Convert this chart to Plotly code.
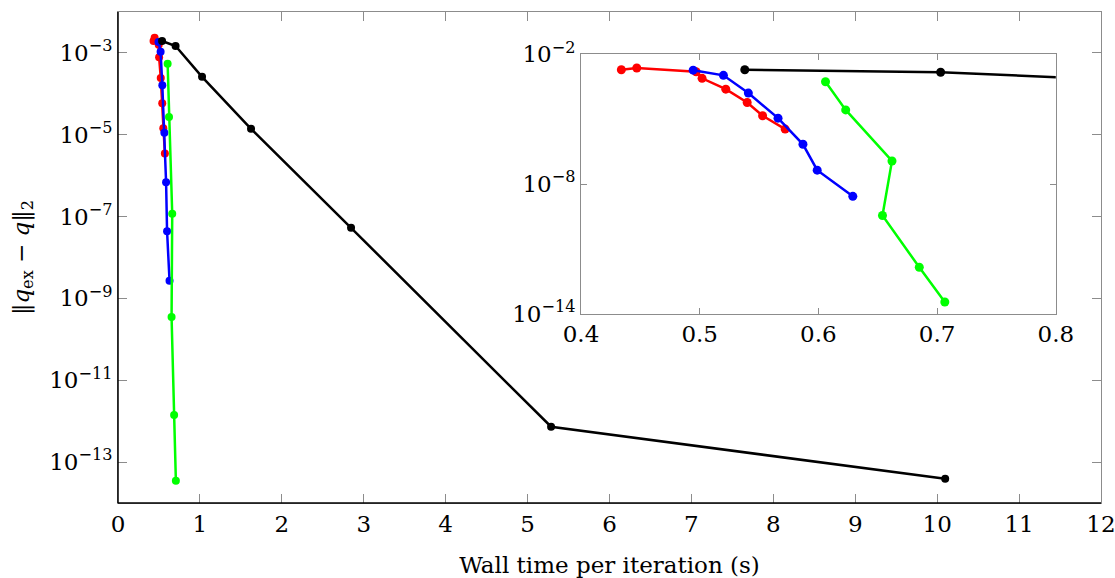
import plotly.graph_objects as go

# ---- data ----
red_x = [0.434, 0.447, 0.497, 0.502, 0.522, 0.540, 0.553, 0.572]
red_y = [1.95e-3, 2.34e-3, 1.58e-3, 7.8e-4, 2.45e-4, 5.9e-5, 1.45e-5, 3.5e-6]

blue_x = [0.4945, 0.520, 0.541, 0.566, 0.587, 0.599, 0.629]
blue_y = [1.86e-3, 1.07e-3, 1.62e-4, 1.12e-5, 6.9e-7, 4.4e-8, 2.7e-9]

green_x = [0.606, 0.623, 0.662, 0.654, 0.685, 0.7065]
green_y = [5.4e-4, 2.7e-5, 1.17e-7, 3.5e-10, 1.41e-12, 3.5e-14]

black_x = [0.538, 0.703, 1.026, 1.624, 2.845, 5.287, 10.098]
black_y = [1.95e-3, 1.48e-3, 2.6e-4, 1.4e-5, 5.3e-8, 7.3e-13, 3.9e-14]

main_xticks = list(range(0, 13))
main_yticks = [1e-3, 1e-5, 1e-7, 1e-9, 1e-11, 1e-13]
main_ytext = ["10<sup>−3</sup>", "10<sup>−5</sup>", "10<sup>−7</sup>",
              "10<sup>−9</sup>", "10<sup>−11</sup>", "10<sup>−13</sup>"]
inset_xticks = [0.4, 0.5, 0.6, 0.7, 0.8]
inset_xtext = ["0.4", "0.5", "0.6", "0.7", "0.8"]
inset_yticks = [1e-2, 1e-8, 1e-14]
inset_ytext = ["10<sup>−2</sup>", "10<sup>−8</sup>", "10<sup>−14</sup>"]

FONT = "DejaVu Serif"
series = [
    (red_x, red_y, "#ff0000"),
    (blue_x, blue_y, "#0000ff"),
    (green_x, green_y, "#00ff00"),
    (black_x, black_y, "#000000"),
]

fig = go.Figure()
for xs, ys, col in series:
    fig.add_trace(go.Scatter(x=xs, y=ys, mode="lines+markers",
                             line=dict(color=col, width=2.5),
                             marker=dict(size=8, color=col),
                             xaxis="x", yaxis="y", showlegend=False))
for xs, ys, col in series:
    fig.add_trace(go.Scatter(x=xs, y=ys, mode="lines+markers",
                             line=dict(color=col, width=2.5),
                             marker=dict(size=9, color=col),
                             xaxis="x2", yaxis="y2", showlegend=False))

grey = "#8c8c8c"
SIZE = 23
tickfont = dict(family=FONT, size=SIZE, color="black")
fig.update_layout(
    width=1115, height=578,
    margin=dict(l=118, r=14, t=12, b=75, autoexpand=False),
    paper_bgcolor="white", plot_bgcolor="white",
    font=dict(family=FONT, size=SIZE, color="black"),
    xaxis=dict(domain=[0, 1], range=[0, 12], tickvals=main_xticks,
               ticks="inside", ticklen=9, tickcolor=grey, tickwidth=1,
               showline=True, linecolor=grey, linewidth=1, mirror="allticks",
               showgrid=False, zeroline=False, anchor="y", automargin=False,
               tickfont=tickfont, ticklabeloverflow="allow",
               title=dict(text="Wall time per iteration (s)", standoff=21,
                          font=dict(family=FONT, size=SIZE))),
    yaxis=dict(domain=[0, 1], type="log", range=[-14, -2],
               tickvals=main_yticks, ticktext=main_ytext,
               ticks="inside", ticklen=9, tickcolor=grey, tickwidth=1,
               showline=True, linecolor=grey, linewidth=1, mirror="allticks",
               showgrid=False, zeroline=False, anchor="x", automargin=False,
               tickfont=tickfont,
               title=dict(text="‖<i>q</i><sub>ex</sub> − <i>q</i>‖<sub>2</sub>", standoff=13,
                          font=dict(family=FONT, size=SIZE))),
    xaxis2=dict(domain=[0.471, 0.954], range=[0.4, 0.8], tickvals=inset_xticks,
                ticktext=inset_xtext,
                ticks="inside", ticklen=6, tickcolor=grey, tickwidth=1,
                showline=True, linecolor=grey, linewidth=1, mirror="allticks",
                showgrid=False, zeroline=False, anchor="y2", automargin=False,
                tickfont=tickfont, ticklabeloverflow="allow"),
    yaxis2=dict(domain=[0.3855, 0.9137], type="log", range=[-14, -2],
                tickvals=inset_yticks, ticktext=inset_ytext,
                ticks="inside", ticklen=6, tickcolor=grey, tickwidth=1,
                showline=True, linecolor=grey, linewidth=1, mirror="allticks",
                showgrid=False, zeroline=False, anchor="x2", automargin=False,
                tickfont=tickfont),
)
# black left and bottom frame lines of main axes
fig.add_shape(type="line", xref="paper", yref="paper", x0=0, x1=0, y0=0, y1=1,
              line=dict(color="black", width=1.5), layer="above")
fig.add_shape(type="line", xref="paper", yref="paper", x0=0, x1=1, y0=0, y1=0,
              line=dict(color="black", width=1.5), layer="above")

fig.write_html("out.html")
